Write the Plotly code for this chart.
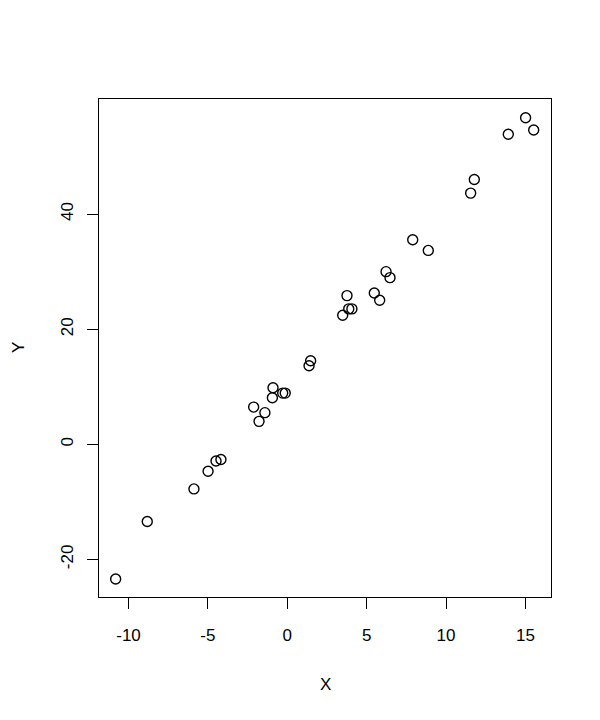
import plotly.graph_objects as go

x_vals = [-10.81, -8.82, -5.88, -4.99, -4.49, -4.18, -2.12, -1.78, -1.41, -0.94,
          -0.90, -0.29, -0.13, 1.37, 1.47, 3.49, 3.76, 3.87, 4.07, 5.48,
          5.82, 6.22, 6.47, 7.90, 8.88, 11.55, 11.78, 13.92, 15.01, 15.52]
y_vals = [-23.41, -13.40, -7.75, -4.68, -2.90, -2.65, 6.47, 3.99, 5.50, 8.10,
          9.83, 8.90, 8.90, 13.65, 14.51, 22.42, 25.84, 23.53, 23.53, 26.30,
          25.02, 30.00, 28.96, 35.55, 33.69, 43.65, 46.00, 53.88, 56.75, 54.62]
x_ticks = [-10, -5, 0, 5, 10, 15]
y_ticks = [-20, 0, 20, 40]
x_title = "X"
y_title = "Y"

font = dict(family="Liberation Sans, Arial, sans-serif", size=17, color="black")

fig = go.Figure()
fig.add_trace(go.Scatter(
    x=x_vals, y=y_vals, mode="markers",
    marker=dict(symbol="circle-open", size=10, color="black", line=dict(width=1.4, color="black")),
    showlegend=False, hoverinfo="x+y"))

axis_common = dict(
    showgrid=False, zeroline=False, showline=True, linecolor="black", linewidth=1,
    mirror=True, ticks="outside", ticklen=11, tickwidth=1, tickcolor="black",
    tickfont=font,
)
fig.update_xaxes(range=[-11.86, 16.61], tickvals=x_ticks,
                 ticktext=[str(v) for v in x_ticks], ticklabelstandoff=12, **axis_common)
fig.update_yaxes(range=[-26.53, 60.0], tickvals=y_ticks,
                 ticktext=[str(v) for v in y_ticks], tickangle=-90, ticklabelstandoff=7, **axis_common)

fig.update_layout(
    width=600, height=720,
    margin=dict(l=91, r=57, t=91, b=131),
    plot_bgcolor="white", paper_bgcolor="white",
    font=font,
    annotations=[
        dict(text=x_title, xref="paper", yref="paper", x=0.5, y=0, yshift=-87,
             showarrow=False, font=font, xanchor="center", yanchor="middle"),
        dict(text=y_title, xref="paper", yref="paper", x=0, y=0.5, xshift=-81,
             showarrow=False, font=font, textangle=-90, xanchor="center", yanchor="middle"),
    ],
)

fig.write_html("out.html")
